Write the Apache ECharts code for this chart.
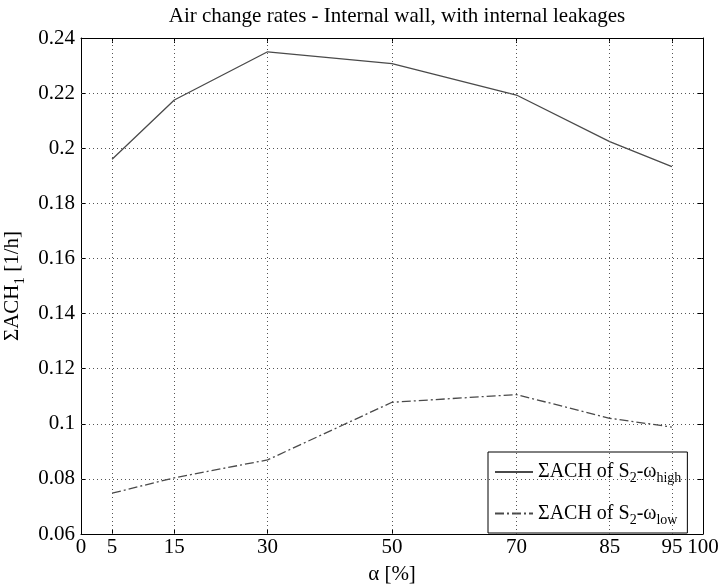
<!DOCTYPE html>
<html>
<head>
<meta charset="utf-8">
<script src="https://cdn.jsdelivr.net/npm/echarts@6/dist/echarts.min.js"></script>
<style>html,body{margin:0;padding:0;background:#fff}#c{width:721px;height:584px}</style>
</head>
<body>
<div id="c"></div>
<script>
const alphaValues = [5, 15, 30, 50, 70, 85, 95];
const highSeries = [0.196, 0.2175, 0.235, 0.2307, 0.2193, 0.2024, 0.1933];
const lowSeries = [0.0748, 0.0804, 0.0869, 0.1078, 0.1106, 0.102, 0.0988];
const xTicks = [0, 5, 15, 30, 50, 70, 85, 95, 100];
const xGrid = [5, 15, 30, 50, 70, 85, 95];
const yGrid = [0.08, 0.1, 0.12, 0.14, 0.16, 0.18, 0.2, 0.22];
const titleText = 'Air change rates - Internal wall, with internal leakages';
const seriesNames = ['high', 'low'];

const FONT = 'Liberation Serif';
const FS = 21;
const chart = echarts.init(document.getElementById('c'), null, {renderer: 'canvas'});

const gridLineStyle = {color: '#555', type: [1, 3], width: 1};
const gridMarks = xGrid.map(v => [{xAxis: v, yAxis: 0.06}, {xAxis: v, yAxis: 0.24}])
  .concat(yGrid.map(v => [{xAxis: 0, yAxis: v}, {xAxis: 100, yAxis: v}]));

const axisLine = {show: true, onZero: false, lineStyle: {color: '#000', width: 1}};
const axisTick = {show: true, inside: true, length: 5, lineStyle: {color: '#000'}};
const richText = {
  a: {fontFamily: FONT, fontSize: FS, color: '#000'},
  s: {fontFamily: FONT, fontSize: 15, color: '#000', padding: [14, 0, 0, 0]}
};
const legendRich = {
  a: {fontFamily: FONT, fontSize: 20, color: '#000'},
  s: {fontFamily: FONT, fontSize: 14, color: '#000', padding: [13, 0, 0, 0]}
};

chart.setOption({
  animation: false,
  backgroundColor: '#fff',
  title: {
    text: titleText,
    left: 392, top: 1, textAlign: 'center',
    textStyle: {fontFamily: FONT, fontSize: FS, fontWeight: 'normal', color: '#000'}
  },
  grid: {left: 81, right: 18, top: 38, bottom: 50, containLabel: false, outerBoundsMode: 'none'},
  xAxis: [{
    type: 'value', min: 0, max: 100, position: 'bottom',
    name: 'α [%]', nameLocation: 'middle', nameGap: 30,
    nameTextStyle: {fontFamily: FONT, fontSize: FS, color: '#000'},
    axisLine: axisLine,
    axisTick: Object.assign({}, axisTick, {customValues: xTicks}),
    axisLabel: {customValues: xTicks, fontFamily: FONT, fontSize: FS, color: '#000', margin: 3},
    splitLine: {show: false}
  }, {
    type: 'value', min: 0, max: 100, position: 'top',
    axisLine: axisLine,
    axisTick: Object.assign({}, axisTick, {customValues: xTicks}),
    axisLabel: {show: false},
    splitLine: {show: false}
  }],
  yAxis: [{
    type: 'value', min: 0.06, max: 0.24, interval: 0.02, position: 'left',
    name: '{a|ΣACH}{s|1}{a| [1/h]}', nameLocation: 'middle', nameGap: 52, nameRotate: 90,
    nameTextStyle: {fontFamily: FONT, color: '#000', rich: richText},
    axisLine: axisLine,
    axisTick: axisTick,
    axisLabel: {fontFamily: FONT, fontSize: FS, color: '#000', margin: 6,
      formatter: v => String(Math.round(v * 100) / 100)},
    splitLine: {show: false}
  }, {
    type: 'value', min: 0.06, max: 0.24, interval: 0.02, position: 'right',
    axisLine: axisLine,
    axisTick: axisTick,
    axisLabel: {show: false},
    splitLine: {show: false}
  }],
  legend: {
    orient: 'vertical', left: 488, top: 452,
    padding: [10, 6, 6, 6], itemGap: 18,
    itemWidth: 38, itemHeight: 14,
    backgroundColor: '#fff', borderColor: '#000', borderWidth: 1, borderRadius: 0,
    data: seriesNames,
    itemStyle: {color: 'rgba(0,0,0,0)', borderWidth: 0, borderColor: 'rgba(0,0,0,0)'},
    formatter: name => name === 'high'
      ? '{a|ΣACH of S}{s|2}{a|-ω}{s|high}'
      : '{a|ΣACH of S}{s|2}{a|-ω}{s|low}',
    textStyle: {fontFamily: FONT, fontSize: 20, color: '#000', rich: legendRich}
  },
  series: [{
    name: 'grid', type: 'line', data: [], silent: true,
    markLine: {silent: true, symbol: 'none', label: {show: false},
      lineStyle: gridLineStyle, emphasis: {disabled: true}, data: gridMarks}
  }, {
    name: 'high', type: 'line', showSymbol: false, symbol: 'circle',
    data: alphaValues.map((a, i) => [a, highSeries[i]]),
    lineStyle: {color: '#4a4a4a', width: 1.3, type: 'solid'},
    itemStyle: {color: '#4a4a4a'}
  }, {
    name: 'low', type: 'line', showSymbol: false, symbol: 'circle',
    data: alphaValues.map((a, i) => [a, lowSeries[i]]),
    lineStyle: {color: '#4a4a4a', width: 1.3, type: [9, 3, 2, 3]},
    itemStyle: {color: '#4a4a4a'}
  }]
});
</script>
</body>
</html>
